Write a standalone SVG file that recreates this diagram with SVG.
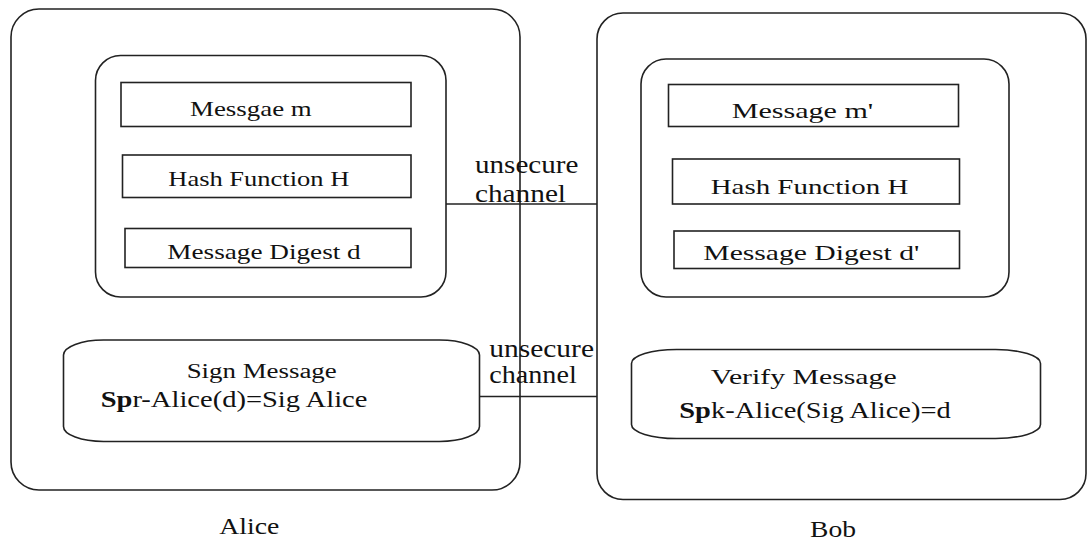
<svg xmlns="http://www.w3.org/2000/svg" width="1088" height="540" viewBox="0 0 1088 540">
  <style>
    .box { fill: none; stroke: #222; stroke-width: 1.6; }
    .wire { fill: none; stroke: #222; stroke-width: 1.6; }
    .lbl { font-family: 'Liberation Serif', 'DejaVu Serif', 'Times New Roman', Times, serif; fill: #111; }
    .t22 { font-size: 22px; }
    .t20 { font-size: 20px; }
    .t23 { font-size: 23px; }
    .t26 { font-size: 26px; }
    .b { font-weight: bold; }
  </style>

  <rect width="1088" height="540" fill="#fff"/>

  <g class="lbl" font-family="Liberation Serif, DejaVu Serif, serif">
  <!-- Alice -->
  <g id="alice">
    <rect class="box" x="11" y="9" width="509" height="481" rx="28" ry="28"/>
    <text class="t23" x="219.3" y="534" textLength="60" lengthAdjust="spacingAndGlyphs">Alice</text>
  </g>
  <g id="alice-hashing">
    <rect class="box" x="95.5" y="55.5" width="350.5" height="241.5" rx="25" ry="25"/>
  </g>
  <g id="alice-message">
    <rect class="box" x="121" y="82.5" width="290" height="44"/>
    <text class="t22" x="190" y="115.7" textLength="121.7" lengthAdjust="spacingAndGlyphs">Messgae m</text>
  </g>
  <g id="alice-hash">
    <rect class="box" x="122.5" y="155" width="288.5" height="42.5"/>
    <text class="t22" x="168.3" y="186" textLength="181" lengthAdjust="spacingAndGlyphs">Hash Function H</text>
  </g>
  <g id="alice-digest">
    <rect class="box" x="125" y="228.5" width="286" height="39"/>
    <text class="t22" x="167.3" y="259.3" textLength="193.4" lengthAdjust="spacingAndGlyphs">Message Digest d</text>
  </g>
  <g id="alice-sign">
    <rect class="box" x="63.5" y="340" width="416" height="101.5" rx="40" ry="15"/>
    <text class="t20" x="186.7" y="378.3" textLength="150" lengthAdjust="spacingAndGlyphs">Sign Message</text>
    <text class="t23" x="100.7" y="407.3" textLength="266.7" lengthAdjust="spacingAndGlyphs"><tspan class="b">Sp</tspan>r-Alice(d)=Sig Alice</text>
  </g>

  <!-- Bob -->
  <g id="bob">
    <rect class="box" x="597" y="13" width="489" height="486.5" rx="26" ry="26"/>
    <text class="t23" x="810" y="536.7" textLength="46" lengthAdjust="spacingAndGlyphs">Bob</text>
  </g>
  <g id="bob-hashing">
    <rect class="box" x="641" y="59" width="368" height="238" rx="25" ry="25"/>
  </g>
  <g id="bob-message">
    <rect class="box" x="668.5" y="84.5" width="290" height="42"/>
    <text class="t22" x="731.7" y="118.3" textLength="141.6" lengthAdjust="spacingAndGlyphs">Message m'</text>
  </g>
  <g id="bob-hash">
    <rect class="box" x="672.5" y="159" width="287" height="45"/>
    <text class="t22" x="710.7" y="194" textLength="197.6" lengthAdjust="spacingAndGlyphs">Hash Function H</text>
  </g>
  <g id="bob-digest">
    <rect class="box" x="674" y="231" width="285.5" height="37.5"/>
    <text class="t22" x="703.3" y="260" textLength="216" lengthAdjust="spacingAndGlyphs">Message Digest d'</text>
  </g>
  <g id="bob-verify">
    <rect class="box" x="631.5" y="349.5" width="409" height="89" rx="45" ry="14"/>
    <text class="t22" x="710.7" y="384" textLength="186" lengthAdjust="spacingAndGlyphs">Verify Message</text>
    <text class="t23" x="679.3" y="418.3" textLength="271.4" lengthAdjust="spacingAndGlyphs"><tspan class="b">Sp</tspan>k-Alice(Sig Alice)=d</text>
  </g>

  <!-- channels between the two parties -->
  <g id="connectors">
    <line class="wire" x1="446" y1="204" x2="597" y2="204"/>
    <line class="wire" x1="479.5" y1="396.5" x2="597" y2="396.5"/>
    <text class="t26" x="475" y="173.3" textLength="103.3" lengthAdjust="spacingAndGlyphs">unsecure</text>
    <text class="t26" x="475" y="201.7" textLength="91" lengthAdjust="spacingAndGlyphs">channel</text>
    <text class="t26" x="489.3" y="356.7" textLength="104.7" lengthAdjust="spacingAndGlyphs">unsecure</text>
    <text class="t26" x="489.3" y="383.3" textLength="87.4" lengthAdjust="spacingAndGlyphs">channel</text>
  </g>
  </g>
</svg>
